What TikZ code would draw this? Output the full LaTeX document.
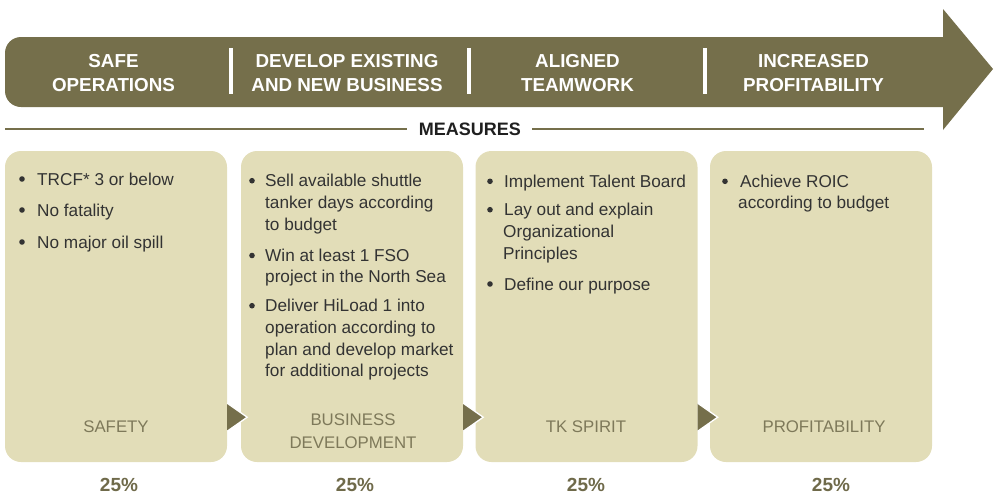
\documentclass[tikz,border=0pt]{standalone}
\usepackage{fontspec}
\setmainfont{Liberation Sans}
\usetikzlibrary{calc}
\definecolor{olivebar}{HTML}{756F4B}
\definecolor{boxfill}{HTML}{E2DDB8}
\definecolor{bodytext}{HTML}{333333}
\definecolor{labeltext}{HTML}{7E795A}
\definecolor{pcttext}{HTML}{6F6A4A}
\tikzset{
  x=1pt, y=-1pt,
  measbox/.style={fill=boxfill, rounded corners=16pt, minimum width=222pt, minimum height=311pt, inner sep=0pt, draw=none},
  head/.style={text=white, font=\fontsize{18.8}{24}\selectfont\bfseries, anchor=base, inner sep=0pt},
  body/.style={text=bodytext, font=\fontsize{17.2}{21.7}\selectfont, anchor=base west, inner sep=0pt},
  bul/.style={circle, fill=bodytext, minimum size=5.6pt, inner sep=0pt, yshift=6pt},
  lab/.style={text=labeltext, font=\fontsize{16.8}{21.7}\selectfont, anchor=base, inner sep=0pt},
  pct/.style={text=pcttext, font=\fontsize{19}{22}\selectfont\bfseries, anchor=base, inner sep=0pt},
  divider/.style={draw=white, line width=4pt},
  rule/.style={draw=olivebar, line width=2pt},
  tri/.style={fill=olivebar},
  triedge/.style={draw=white, line width=1.3pt}
}
\begin{document}
\begin{tikzpicture}
\useasboundingbox (0,0) rectangle (999,493);
% big arrow
\fill[olivebar] (600,37) [rounded corners=16pt] -- (5,37) -- (5,107) -- (600,107) [sharp corners] -- (943,107) -- (943,130) -- (993,69) -- (943,9) -- (943,37) -- cycle;
% dividers
\coordinate (d1t) at (231,48); \coordinate (d1b) at (231,94);
\coordinate (d2t) at (469,48); \coordinate (d2b) at (469,94);
\coordinate (d3t) at (705,48); \coordinate (d3b) at (705,94);
\draw[divider] (d1t) -- (d1b);
\draw[divider] (d2t) -- (d2b);
\draw[divider] (d3t) -- (d3b);
% headings
\node[head] (h1a) at (113.5,67) {SAFE};
\node[head] (h1b) at (113.5,91) {OPERATIONS};
\node[head] (h2a) at (347,67) {DEVELOP EXISTING};
\node[head] (h2b) at (347,91) {AND NEW BUSINESS};
\node[head] (h3a) at (577.5,67) {ALIGNED};
\node[head] (h3b) at (577.5,91) {TEAMWORK};
\node[head] (h4a) at (813.5,67) {INCREASED};
\node[head] (h4b) at (813.5,91) {PROFITABILITY};
% measures rule
\node[text=black!88, font=\fontsize{18}{22}\selectfont\bfseries, anchor=base, inner sep=0pt] (meas) at (470,135.7) {MEASURES};
\coordinate (rl) at (5,129); \coordinate (rle) at (407,129);
\coordinate (rrs) at (532,129); \coordinate (rr) at (924,129);
\draw[rule] (rl) -- (rle);
\draw[rule] (rrs) -- (rr);
% boxes
\node[measbox] (b1) at (116,306.5) {};
\node[measbox] (b2) at (352,306.5) {};
\node[measbox] (b3) at (586.5,306.5) {};
\node[measbox] (b4) at (821,306.5) {};
% triangles between boxes
\foreach \b in {b1,b2,b3}{
  \coordinate (\b-t1) at ($(\b.south east)+(0,-59)$);
  \coordinate (\b-t2) at ($(\b.south east)+(20,-45)$);
  \coordinate (\b-t3) at ($(\b.south east)+(0,-31)$);
  \fill[tri] (\b-t1) -- (\b-t2) -- (\b-t3) -- cycle;
  \draw[triedge] (\b-t1) -- (\b-t2) -- (\b-t3);
}
% box 1 text
\node[bul] (b1i1) at (22,185) {};
\node[body] (b1l1) at (37,185) {TRCF* 3 or below};
\node[bul] (b1i2) at (22,216) {};
\node[body] (b1l2) at (37,216) {No fatality};
\node[bul] (b1i3) at (22,248) {};
\node[body] (b1l3) at (37,248) {No major oil spill};
% box 2 text
\node[bul] (b2i1) at (252,186.7) {};
\node[body] (b2l1) at (265,186.7) {Sell available shuttle};
\node[body] (b2l2) at (265,208.5) {tanker days according};
\node[body] (b2l3) at (265,230) {to budget};
\node[bul] (b2i2) at (252,261.5) {};
\node[body] (b2l4) at (265,261.5) {Win at least 1 FSO};
\node[body] (b2l5) at (265,282.5) {project in the North Sea};
\node[bul] (b2i3) at (252,311.7) {};
\node[body] (b2l6) at (265,311.7) {Deliver HiLoad 1 into};
\node[body] (b2l7) at (265,333.5) {operation according to};
\node[body] (b2l8) at (265,355) {plan and develop market};
\node[body] (b2l9) at (265,376.7) {for additional projects};
% box 3 text
\node[bul] (b3i1) at (490,187.3) {};
\node[body] (b3l1) at (504,187.3) {Implement Talent Board};
\node[bul] (b3i2) at (490,215.7) {};
\node[body] (b3l2) at (504,215.7) {Lay out and explain};
\node[body] (b3l3) at (503,237.7) {Organizational};
\node[body] (b3l4) at (503,259) {Principles};
\node[bul] (b3i3) at (490,290) {};
\node[body] (b3l5) at (504,290) {Define our purpose};
% box 4 text
\node[bul] (b4i1) at (725,187.3) {};
\node[body] (b4l1) at (740,187.3) {Achieve ROIC};
\node[body] (b4l2) at (738,208.3) {according to budget};
% bottom labels
\node[lab] (lab1) at (116,432.7) {SAFETY};
\node[lab] (lab2a) at (353,425) {BUSINESS};
\node[lab] (lab2b) at (353,448.3) {DEVELOPMENT};
\node[lab] (lab3) at (586,432.7) {TK SPIRIT};
\node[lab] (lab4) at (824,432.7) {PROFITABILITY};
% percentages
\node[pct] (p1) at (119,491) {25\%};
\node[pct] (p2) at (355,491) {25\%};
\node[pct] (p3) at (586,491) {25\%};
\node[pct] (p4) at (831,491) {25\%};
\end{tikzpicture}
\end{document}
